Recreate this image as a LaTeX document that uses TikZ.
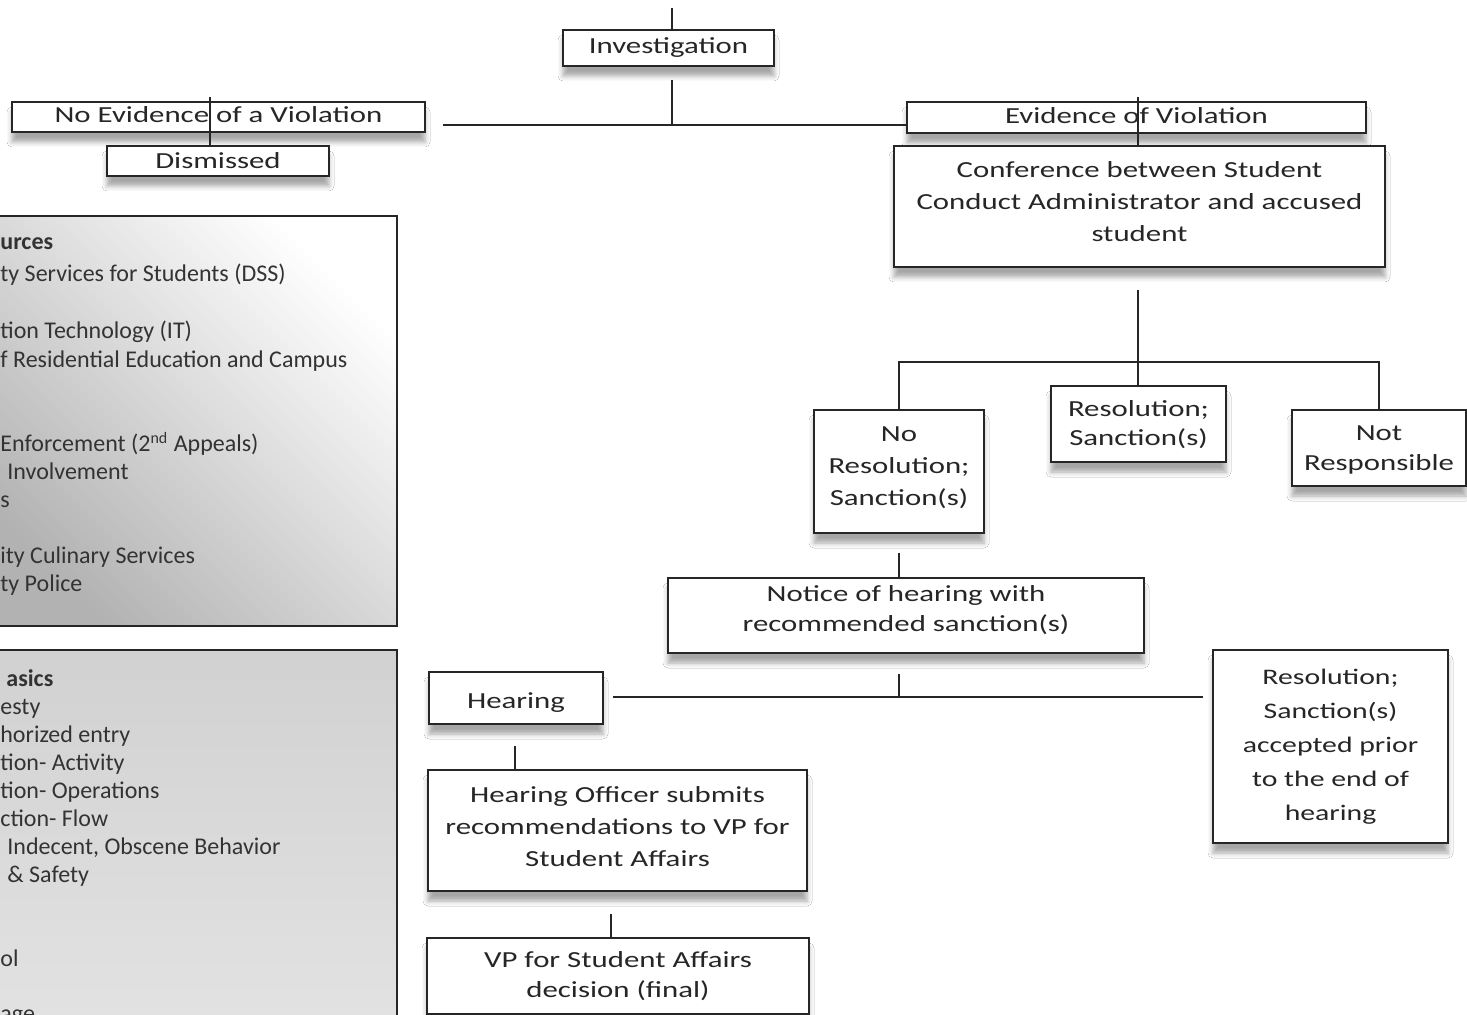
\documentclass[tikz,border=0pt]{standalone}
\usepackage{fontspec}
\setmainfont{Carlito}
\newfontfamily\boxfont[FakeStretch=1.34]{Carlito}
\newcommand\flowfont[1]{\boxfont\fontsize{11.5}{#1}\selectfont}
\usetikzlibrary{shadows.blur}

\tikzset{
  box/.style={draw=black!85, line width=1pt, fill=white, align=center, inner sep=0pt, text=black!85,
    blur shadow={shadow xshift=0pt, shadow yshift=-5pt, shadow blur radius=2.5pt, shadow opacity=35}},
  link/.style={draw=black!85, line width=1pt},
  item/.style={anchor=base west, inner sep=0pt, text=black!80, font=\fontsize{12}{14}\selectfont},
}

\begin{document}
\begin{tikzpicture}[x=0.5pt, y=-0.5pt]
\useasboundingbox[fill=white] (0,0) rectangle (1467,1015);

\shade[draw=black!85, line width=1pt, top color=white, bottom color=black!30, shading angle=-45] (-10,216) rectangle (397,626);
\shade[draw=black!85, line width=1pt, top color=black!18, bottom color=black!11] (-10,650) rectangle (397,1040);

\node[item, font=\bfseries\fontsize{12}{14}\selectfont] (r0) at (0,250) {urces};
\node[item] (r1) at (0,282) {ty Services for Students (DSS)};
\node[item] (r2) at (0,339) {tion Technology (IT)};
\node[item] (r3) at (0,368) {f Residential Education and Campus};
\node[item] (r4) at (0,452) {Enforcement (2\textsuperscript{nd} Appeals)};
\node[item] (r5) at (7,480) {Involvement};
\node[item] (r6) at (0,508) {s};
\node[item] (r7) at (0,564) {ity Culinary Services};
\node[item] (r8) at (0,592) {ty Police};

\node[item, font=\bfseries\fontsize{12}{14}\selectfont] (b0) at (6,686) {asics};
\node[item] (b1) at (0,714) {esty};
\node[item] (b2) at (0,742) {horized entry};
\node[item] (b3) at (0,770) {tion- Activity};
\node[item] (b4) at (0,798) {tion- Operations};
\node[item] (b5) at (0,826) {ction- Flow};
\node[item] (b6) at (7,854) {Indecent, Obscene Behavior};
\node[item] (b7) at (7,882) {\& Safety};
\node[item] (b8) at (0,966) {ol};
\node[item] (b9) at (0,1021) {age};

\node[box, minimum width=105.5pt, minimum height=18pt, font=\flowfont{14}] (inv) at (668.5,48) {Investigation};
\node[box, minimum width=206.5pt, minimum height=15pt, font=\flowfont{14}, text depth=2pt] (noev) at (218.5,117) {No Evidence of a Violation};
\node[box, minimum width=111pt, minimum height=15pt, font=\flowfont{14}] (dis) at (218,161) {Dismissed};
\node[box, minimum width=229.5pt, minimum height=15.5pt, font=\flowfont{14}, text depth=2pt] (evid) at (1136.5,117.5) {Evidence of Violation};
\node[box, minimum width=245.5pt, minimum height=60.5pt, font=\flowfont{16}, text depth=4.5pt] (conf) at (1139.5,206.5) {Conference between Student\\Conduct Administrator and accused\\student};
\node[box, minimum width=85pt, minimum height=61.5pt, font=\flowfont{16}, text depth=5pt] (nores) at (899,471.5) {No\\Resolution;\\Sanction(s)};
\node[box, minimum width=87.5pt, minimum height=38pt, font=\flowfont{14.5}, text depth=0.5pt] (res) at (1138.5,424) {Resolution;\\Sanction(s)};
\node[box, minimum width=87pt, minimum height=38pt, font=\flowfont{15}, text depth=-0.5pt] (notresp) at (1379,448) {Not\\Responsible};
\node[box, minimum width=238pt, minimum height=37.5pt, font=\flowfont{15}, text depth=6.5pt] (notice) at (906,615.5) {Notice of hearing with\\recommended sanction(s)};
\node[box, minimum width=87pt, minimum height=26pt, font=\flowfont{14}, text height=12.5pt] (hear) at (516,698) {Hearing};
\node[box, minimum width=117.5pt, minimum height=96.5pt, font=\boxfont\fontsize{11.1}{17}\selectfont] (resacc) at (1330.5,746.5) {Resolution;\\Sanction(s)\\accepted prior\\to the end of\\hearing};
\node[box, minimum width=189.5pt, minimum height=60.5pt, font=\flowfont{16}, text depth=4pt] (ho) at (617.5,830.5) {Hearing Officer submits\\recommendations to VP for\\Student Affairs};
\node[box, minimum width=191pt, minimum height=38pt, font=\flowfont{15}] (vp) at (618,976) {VP for Student Affairs\\decision (final)};

\coordinate (invin) at (672,8);
\coordinate (invout) at (672,80);
\coordinate (split) at (672,125);
\coordinate (splitl) at (443,125);
\coordinate (noevx) at (210,97);
\coordinate (evidx) at (1138,97);
\coordinate (confout) at (1138,290);
\coordinate (fork) at (1138,362);
\coordinate (noresout) at (899,553);
\coordinate (noticeout) at (899,674);
\coordinate (hsplit) at (899,697);
\coordinate (hl) at (613,697);
\coordinate (hr) at (1203,697);
\coordinate (hearout) at (515,746);
\coordinate (hoout) at (611,914);

\draw[link] (invin) -- (invin |- inv.north);
\draw[link] (invout) -- (split);
\draw[link] (splitl) -- (split) -- (split -| evid.west);
\draw[link] (noevx) -- (noevx |- dis.north);
\draw[link] (evidx) -- (evidx |- conf.north);
\draw[link] (confout) -- (confout |- res.north);
\draw[link] (nores.north) -- (nores.north |- fork) -- (notresp.north |- fork) -- (notresp.north);
\draw[link] (noresout) -- (noresout |- notice.north);
\draw[link] (noticeout) -- (hsplit);
\draw[link] (hl) -- (hr);
\draw[link] (hearout) -- (hearout |- ho.north);
\draw[link] (hoout) -- (hoout |- vp.north);
\end{tikzpicture}
\end{document}
